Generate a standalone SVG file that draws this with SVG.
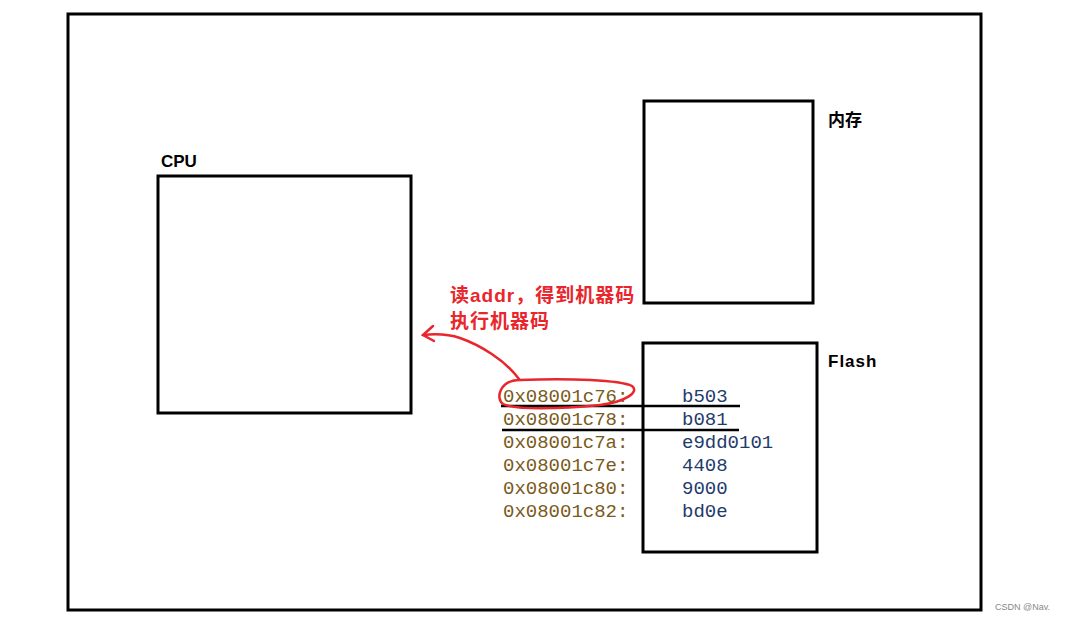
<svg xmlns="http://www.w3.org/2000/svg" width="1066" height="620" viewBox="0 0 1066 620">
<style>
.box{fill:none;stroke:#000;stroke-width:3}
.lbl{font-family:"Liberation Sans","Noto Sans CJK SC",sans-serif;font-weight:bold;font-size:17px;fill:#000}
.red{font-family:"Liberation Sans","Noto Sans CJK SC",sans-serif;font-weight:bold;font-size:19px;letter-spacing:1px;fill:#e8262b}
.ad{font-family:"Liberation Mono",monospace;font-size:19px;fill:#7a5a1a}
.va{font-family:"Liberation Mono",monospace;font-size:19px;fill:#1f3b6b}
.rl{fill:none;stroke:#e8262b;stroke-width:2.5;stroke-linecap:round}
</style>
<rect width="1066" height="620" fill="#fff"/>
<rect class="box" x="68" y="14" width="913" height="596"/>
<g id="cpu"><rect class="box" x="158" y="176" width="253" height="237"/><text class="lbl" x="161" y="167">CPU</text></g>
<g id="mem"><rect class="box" x="644" y="101" width="169" height="202"/><text class="lbl" x="828" y="126">内存</text></g>
<g id="flash"><rect class="box" x="643" y="343" width="174" height="209"/><text class="lbl" x="828" y="367" letter-spacing="1">Flash</text>
<g class="ad"><text x="503" y="402">0x08001c76:</text><text x="503" y="425">0x08001c78:</text><text x="503" y="448">0x08001c7a:</text><text x="503" y="471">0x08001c7e:</text><text x="503" y="494">0x08001c80:</text><text x="503" y="517">0x08001c82:</text></g>
<g class="va"><text x="682" y="402">b503</text><text x="682" y="425">b081</text><text x="682" y="448">e9dd0101</text><text x="682" y="471">4408</text><text x="682" y="494">9000</text><text x="682" y="517">bd0e</text></g>
<line x1="501" y1="406" x2="740" y2="406" stroke="#000" stroke-width="2.5"/>
<line x1="502" y1="430" x2="739" y2="430" stroke="#000" stroke-width="2.5"/>
</g>
<text class="red" x="450" y="302">读addr，得到机器码</text>
<text class="red" x="450" y="328">执行机器码</text>
<g id="connectors">
<path class="rl" d="M519,379 C505,360 480,345 460,338 C445,333 432,334 423,335"/>
<path class="rl" d="M433,326 L423,335 L434,341"/>
<path class="rl" d="M520,380 C500,380 495,398 503,404 C515,410 560,409 600,405 C625,402 640,392 632,386 C620,380 570,378 520,380"/>
</g>
<text x="995" y="610" font-family="Liberation Sans,sans-serif" font-size="9" fill="#888">CSDN @Nav.</text>
</svg>
